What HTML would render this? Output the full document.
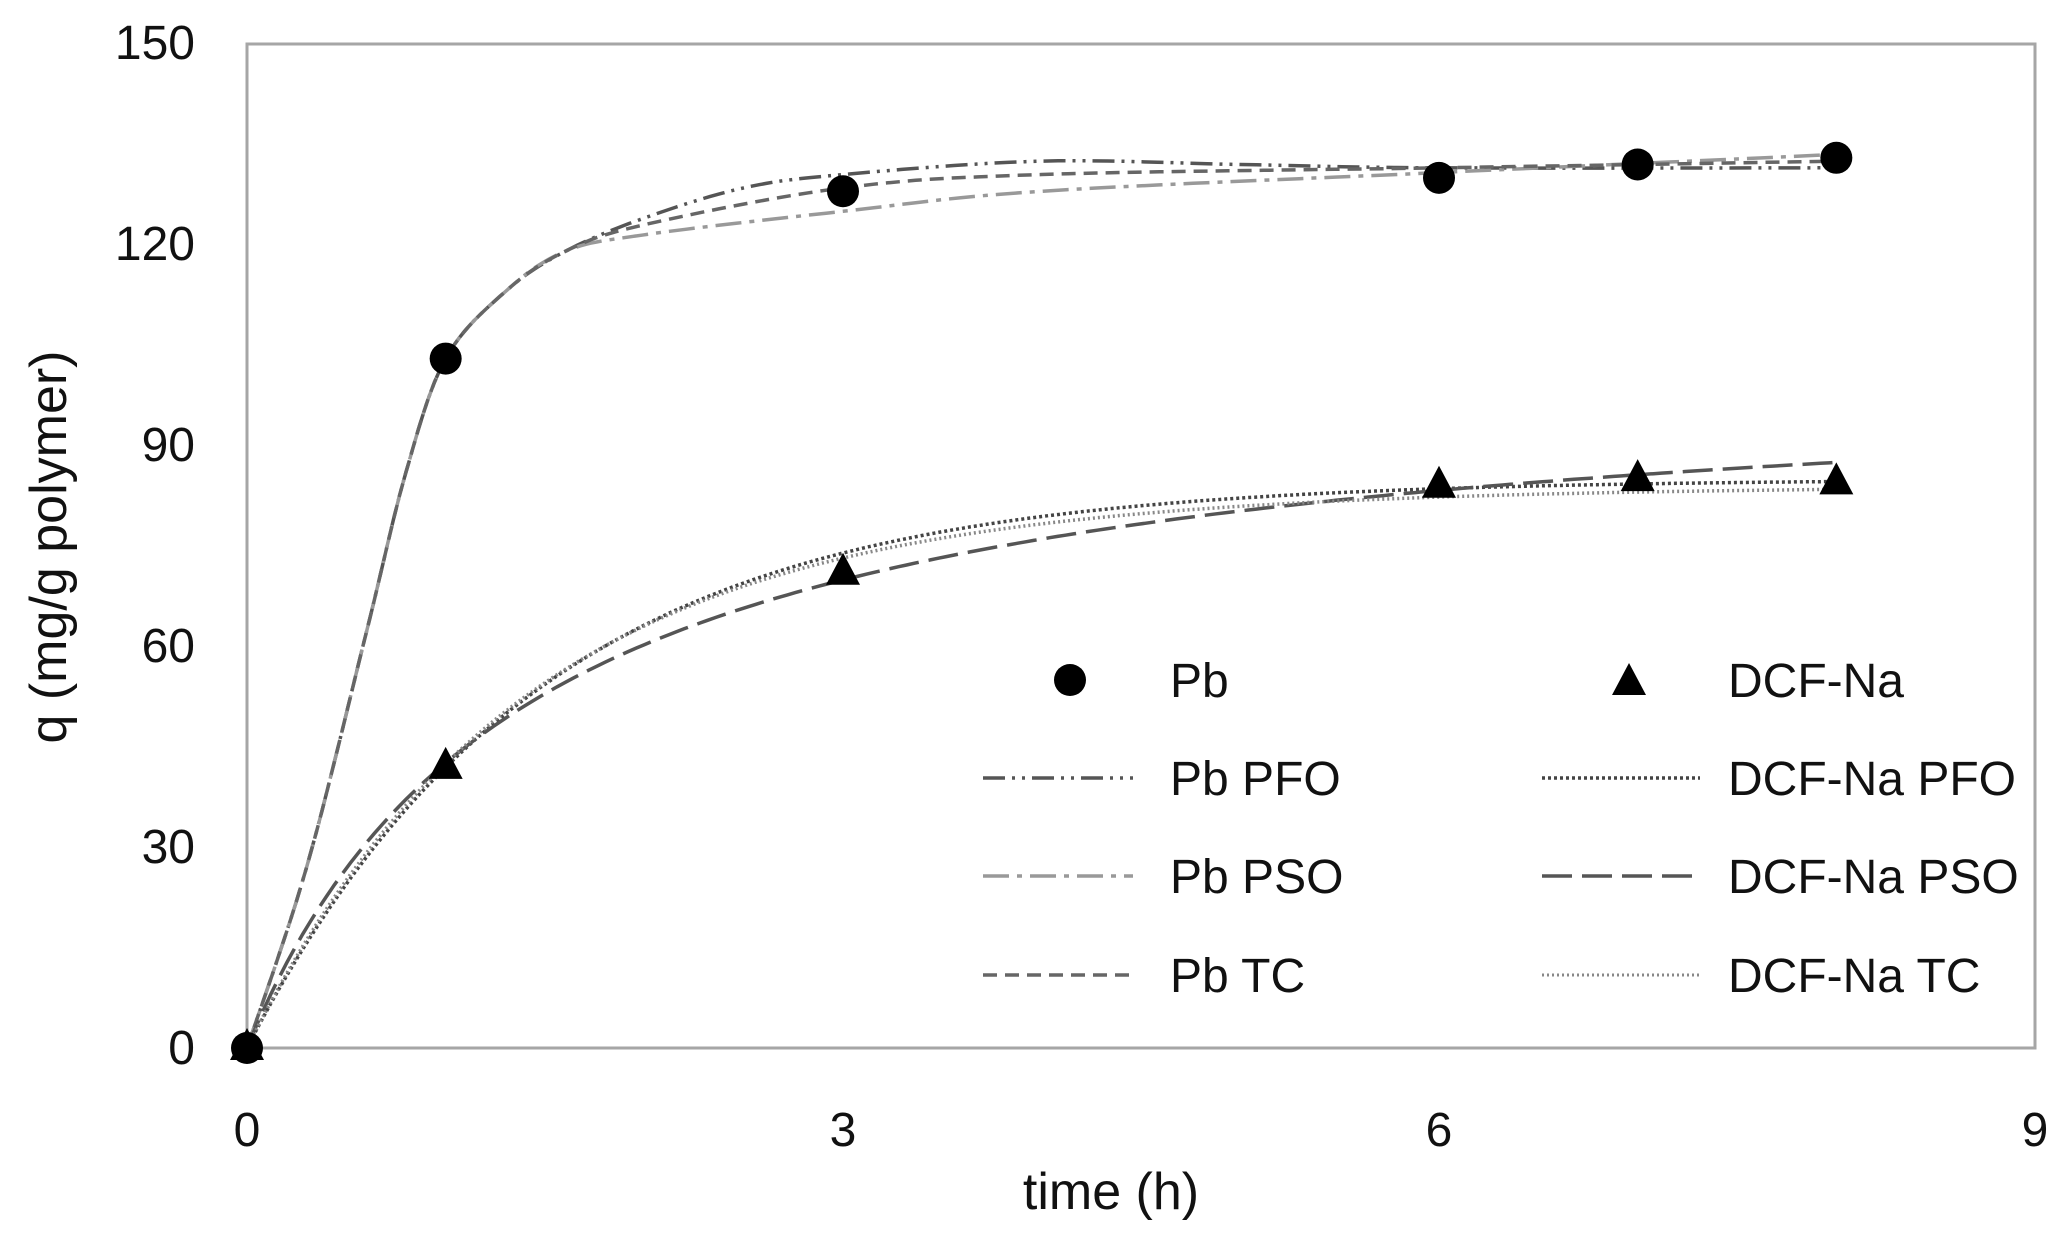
<!DOCTYPE html>
<html><head><meta charset="utf-8">
<style>
html,body{margin:0;padding:0;background:#fff;}
svg{display:block;}
text{font-family:"Liberation Sans",sans-serif;fill:#111;}
</style></head>
<body>
<svg id="s" width="2065" height="1240" viewBox="0 0 2065 1240" xmlns="http://www.w3.org/2000/svg">
<rect x="0" y="0" width="2065" height="1240" fill="#fff"/>
<rect x="247" y="44" width="1788" height="1004" fill="none" stroke="#a6a6a6" stroke-width="3"/>
<g font-size="48" text-anchor="end">
<text x="195" y="1064">0</text>
<text x="195" y="863">30</text>
<text x="195" y="662">60</text>
<text x="195" y="461">90</text>
<text x="195" y="260">120</text>
<text x="195" y="59">150</text>
</g>
<g font-size="48" text-anchor="middle">
<text x="247" y="1146">0</text>
<text x="843" y="1146">3</text>
<text x="1439" y="1146">6</text>
<text x="2035" y="1146">9</text>
</g>
<text x="1111" y="1209" font-size="52" text-anchor="middle">time (h)</text>
<text transform="translate(66,547) rotate(-90)" font-size="52" text-anchor="middle">q (mg/g polymer)</text>
<g id="curves" fill="none" stroke-width="3.5"></g>
<g id="marks"></g>
<circle cx="1070" cy="680" r="16" fill="#000"/>
<text x="1170" y="697" font-size="48">Pb</text>
<polygon points="1629,663 1646,695 1612,695" fill="#000"/>
<text x="1728" y="697" font-size="48">DCF-Na</text>
<line x1="983" y1="778" x2="1133" y2="778" stroke="#555" stroke-width="3.5" stroke-dasharray="22,7,3,7,3,7"/>
<text x="1170" y="795" font-size="48">Pb PFO</text>
<line x1="983" y1="876" x2="1133" y2="876" stroke="#999" stroke-width="3.5" stroke-dasharray="26,8,5,8"/>
<text x="1170" y="893" font-size="48">Pb PSO</text>
<line x1="983" y1="975" x2="1133" y2="975" stroke="#666" stroke-width="3.5" stroke-dasharray="14,8"/>
<text x="1170" y="992" font-size="48">Pb TC</text>
<line x1="1542" y1="778" x2="1700" y2="778" stroke="#444" stroke-width="3.5" stroke-dasharray="3,3"/>
<text x="1728" y="795" font-size="48">DCF-Na PFO</text>
<line x1="1542" y1="876" x2="1700" y2="876" stroke="#555" stroke-width="3.5" stroke-dasharray="30,10"/>
<text x="1728" y="893" font-size="48">DCF-Na PSO</text>
<line x1="1542" y1="975" x2="1700" y2="975" stroke="#888" stroke-width="3" stroke-dasharray="2,3"/>
<text x="1728" y="992" font-size="48">DCF-Na TC</text>
</svg>
<script>
var X=function(t){return 247+t*198.667},Y=function(q){return 1048-q*6.6933};
function cr(pts){var d="M"+X(pts[0][0]).toFixed(1)+","+Y(pts[0][1]).toFixed(1);
for(var i=0;i<pts.length-1;i++){var p0=pts[Math.max(i-1,0)],p1=pts[i],p2=pts[i+1],p3=pts[Math.min(i+2,pts.length-1)];
for(var s=1;s<=12;s++){var u=s/12,u2=u*u,u3=u2*u;
var f=function(a,b,c,e){return 0.5*((2*b)+(-a+c)*u+(2*a-5*b+4*c-e)*u2+(-a+3*b-3*c+e)*u3);};
d+="L"+X(f(p0[0],p1[0],p2[0],p3[0])).toFixed(1)+","+Y(f(p0[1],p1[1],p2[1],p3[1])).toFixed(1);}}
return d;}
function path(f){var d="";for(var i=0;i<=200;i++){var t=8*i/200;d+=(i?"L":"M")+X(t).toFixed(1)+","+Y(f(t)).toFixed(1);}return d;}
var base=[[0,0],[0.3,27],[0.6,62],[0.8,86],[1,103],[1.3,113],[1.6,119]];
var C=[
[cr(base.concat([[2,124],[2.5,128.5],[3,130.5],[4,132.5],[5,132],[6,131.5],[8,131.5]])),"#555","22,7,3,7,3,7"],
[cr(base.concat([[2,121.5],[3,125],[4,128],[6,130.8],[8,133.5]])),"#999","26,8,5,8"],
[cr(base.concat([[2,123],[3,128.5],[4,130.5],[6,131.5],[8,132.5]])),"#666","14,8"],
[path(function(t){return 85*(1-Math.exp(-0.68*t));}),"#444","3,3"],
[path(function(t){var x=0.705*t;return 103*x/(1+x);}),"#555","30,10"],
[path(function(t){return 60*(1-Math.exp(-0.8*t))+24*(1-Math.exp(-0.5*t));}),"#888","2,3"]];
var g=document.getElementById("curves"),ns="http://www.w3.org/2000/svg";
C.forEach(function(c){var p=document.createElementNS(ns,"path");p.setAttribute("d",c[0]);p.setAttribute("stroke",c[1]);p.setAttribute("stroke-dasharray",c[2]);g.appendChild(p);});
var m=document.getElementById("marks");
[[0,0],[1,103],[3,128],[6,130],[7,132],[8,133]].forEach(function(p){var c=document.createElementNS(ns,"circle");c.setAttribute("cx",X(p[0]));c.setAttribute("cy",Y(p[1]));c.setAttribute("r",16);c.setAttribute("fill","#000");m.appendChild(c);});
[[0,0],[1,42],[3,71],[6,84],[7,85],[8,84.5]].forEach(function(p){var x=X(p[0]),y=Y(p[1]);var c=document.createElementNS(ns,"polygon");c.setAttribute("points",x+","+(y-20)+" "+(x+17)+","+(y+12)+" "+(x-17)+","+(y+12));c.setAttribute("fill","#000");m.appendChild(c);});
</script>
</body></html>
